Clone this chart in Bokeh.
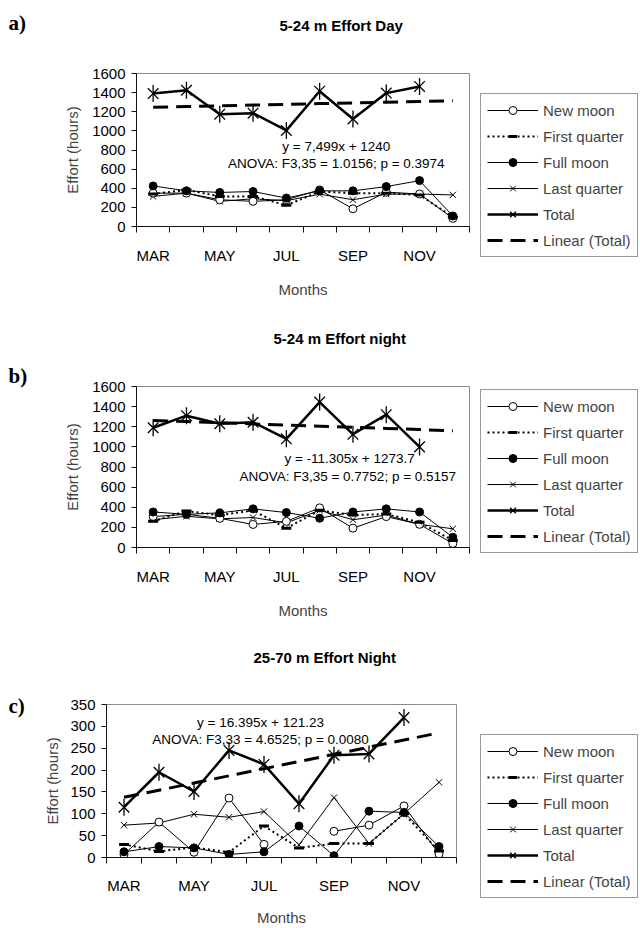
import numpy as np
from bokeh.plotting import figure
from bokeh.layouts import column, row
from bokeh.models import FixedTicker, Label, Legend, LegendItem, Range1d, ColumnDataSource
from bokeh.embed import file_html
from bokeh.resources import INLINE

months = ["MAR", "APR", "MAY", "JUN", "JUL", "AUG", "SEP", "OCT", "NOV", "DEC"]
month_pos = list(range(1, 11))
nan = float("nan")

# Panel a) 5-24 m Effort Day
a_new = [349, 349, 280, 263, 280, 383, 185, 359, 340, 85]
a_fq = [340, 383, 315, 315, 222, 366, 349, 349, 330, 100]
a_full = [424, 373, 356, 366, 297, 373, 373, 417, 480, 110]
a_lq = [315, 349, 263, 290, 270, 338, 280, 338, 340, 330]
a_total = [1390, 1425, 1175, 1185, 1005, 1415, 1125, 1395, 1465]
a_slope, a_intercept = 7.499, 1240.0

# Panel b) 5-24 m Effort night
b_new = [307, 330, 290, 229, 260, 394, 192, 307, 230, 40]
b_fq = [260, 363, 320, 369, 192, 369, 322, 332, 250, 70]
b_full = [353, 330, 344, 384, 347, 291, 353, 384, 353, 102]
b_lq = [276, 310, 285, 298, 245, 369, 276, 322, 230, 186]
b_total = [1190, 1310, 1230, 1245, 1080, 1445, 1125, 1320, 1000]
b_slope, b_intercept = -11.305, 1273.7

# Panel c) 25-70 m Effort Night
c_new = [7, 81, 12, 136, 30, nan, 60, 74, 118, 8]
c_fq = [30, 14, 23, 12, 72, 22, 32, 32, 100, 15]
c_full = [13, 25, 22, 7, 13, 72, 4, 106, 103, 25]
c_lq = [74, 79, 99, 92, 105, 29, 137, 32, 100, 172]
c_total = [115, 195, 151, 245, 213, 123, 234, 237, 320]
c_slope, c_intercept = 16.395, 121.23

FONT = "Liberation Sans"
W = 640
LEG_W = 160
TAG_W = 36
MAIN_W = W - TAG_W - LEG_W


def blank(width, height, x_range=None, **kw):
    f = figure(width=width, height=height, output_backend="svg", toolbar_location=None,
               x_range=x_range if x_range is not None else Range1d(0, width),
               y_range=Range1d(0, height),
               x_axis_location=None, y_axis_location=None, **kw)
    f.title.visible = False
    f.grid.visible = False
    f.outline_line_color = None
    return f


def draw(f, s, ts, trs):
    r = {}
    r["lq"] = [f.line("x", "lq", source=s, line_color="black", line_width=1),
               f.scatter("x", "lq", source=s, marker="x", size=9,
                         line_color="black", line_width=1)]
    r["new"] = [f.line("x", "new", source=s, line_color="black", line_width=1),
                f.scatter("x", "new", source=s, marker="circle", size=8,
                          line_color="black", fill_color="white", line_width=1)]
    r["fq"] = [f.line("x", "fq", source=s, line_color="black", line_width=2,
                      line_dash="2 3"),
               f.scatter("x", "fq", source=s, marker="dash", size=10,
                         line_color="black", line_width=3)]
    r["full"] = [f.line("x", "full", source=s, line_color="black", line_width=1),
                 f.scatter("x", "full", source=s, marker="circle", size=8,
                           line_color="black", fill_color="black")]
    r["tr"] = [f.line("x", "trend", source=trs, line_color="black", line_width=3,
                      line_dash="15 8")]
    r["tot"] = [f.line("x", "total", source=ts, line_color="black", line_width=2.5),
                f.scatter("x", "total", source=ts, marker="x", size=15,
                          line_color="black", line_width=1.3),
                f.scatter("x", "total", source=ts, marker="dash", size=17,
                          angle=np.pi / 2, line_color="black", line_width=1.3)]
    return r


def make_panel(head_h, main_h, top, frame_h, frame_left, frame_w, ymax, ystep,
               new, fq, full, lq, total, slope, intercept,
               eq_text, anova_text, eq_xy, anova_xy,
               title, title_xy, tag, tag_y, legend_y,
               xlab_standoff, xaxis_label_standoff, ylab_standoff):
    left = frame_left - TAG_W
    right = MAIN_W - left - frame_w
    p = figure(width=MAIN_W, height=main_h, output_backend="svg", toolbar_location=None,
               x_range=Range1d(0.5, 10.5), y_range=Range1d(0, ymax),
               min_border_left=left, min_border_right=right,
               min_border_top=top, min_border_bottom=main_h - top - frame_h)
    p.title.visible = False
    p.grid.visible = False
    p.outline_line_color = "#8c8c8c"
    p.outline_line_width = 1

    xa = p.xaxis[0]
    xa.ticker = FixedTicker(ticks=[1, 3, 5, 7, 9],
                            minor_ticks=[i + 0.5 for i in range(11)])
    xa.major_label_overrides = {m: months[m - 1] for m in [1, 3, 5, 7, 9]}
    xa.major_tick_out = 0
    xa.major_tick_in = 0
    xa.minor_tick_out = 6
    xa.minor_tick_in = 0
    xa.minor_tick_line_color = "#111111"
    xa.axis_line_color = "#111111"
    xa.major_label_standoff = xlab_standoff
    xa.axis_label = "Months"
    xa.axis_label_standoff = xaxis_label_standoff
    xa.axis_label_text_font = FONT
    xa.axis_label_text_font_size = "15px"
    xa.axis_label_text_font_style = "normal"
    xa.major_label_text_font = FONT
    xa.major_label_text_font_size = "15px"
    xa.major_label_text_color = "black"

    ya = p.yaxis[0]
    ya.ticker = FixedTicker(ticks=list(range(0, ymax + 1, ystep)), minor_ticks=[])
    ya.major_tick_out = 5
    ya.major_tick_in = 0
    ya.minor_tick_out = 0
    ya.minor_tick_in = 0
    ya.major_tick_line_color = "#111111"
    ya.axis_line_color = "#111111"
    ya.major_label_standoff = 6
    ya.axis_label = "Effort (hours)"
    ya.axis_label_standoff = ylab_standoff
    ya.axis_label_text_font = FONT
    ya.axis_label_text_font_size = "15px"
    ya.axis_label_text_font_style = "normal"
    ya.major_label_text_font = FONT
    ya.major_label_text_font_size = "15px"
    ya.major_label_text_color = "black"

    src = ColumnDataSource(dict(x=np.array(month_pos, float),
                                new=np.array(new, float), fq=np.array(fq, float),
                                full=np.array(full, float), lq=np.array(lq, float)))
    tsrc = ColumnDataSource(dict(x=np.array(month_pos[:len(total)], float),
                                 total=np.array(total, float)))
    xs = np.array(month_pos, float)
    trsrc = ColumnDataSource(dict(x=xs, trend=intercept + slope * xs))

    draw(p, src, tsrc, trsrc)

    for txt, (lx, ly) in ((eq_text, eq_xy), (anova_text, anova_xy)):
        p.add_layout(Label(x=lx, y=ly, text=txt, text_font=FONT, text_font_size="13.5px",
                           text_align="center", text_baseline="middle", text_color="black"))

    panel_h = head_h + main_h

    # header with the title (same borders as the main plot so frames line up)
    hd = blank(MAIN_W, head_h, x_range=Range1d(0, frame_w),
               min_border_left=left, min_border_right=right,
               min_border_top=0, min_border_bottom=0)
    hd.add_layout(Label(x=title_xy[0], y=title_xy[1], text=title, text_font=FONT,
                        text_font_size="15px", text_font_style="bold",
                        text_align="left", text_baseline="middle", text_color="black"))

    # tag column
    tg = blank(TAG_W, panel_h, min_border=0)
    tg.add_layout(Label(x=8, y=tag_y, text=tag, text_font="Liberation Serif",
                        text_font_size="21px", text_font_style="bold",
                        text_align="left", text_baseline="middle", text_color="black"))

    # legend column: same series drawn outside the visible range, used only for the key
    lg = blank(LEG_W, panel_h, x_range=Range1d(1000, 1000 + LEG_W), min_border=0)
    rr = draw(lg, src, tsrc, trsrc)
    legend = Legend(items=[
        LegendItem(label="New moon", renderers=rr["new"]),
        LegendItem(label="First quarter", renderers=rr["fq"]),
        LegendItem(label="Full moon", renderers=rr["full"]),
        LegendItem(label="Last quarter", renderers=rr["lq"]),
        LegendItem(label="Total", renderers=rr["tot"]),
        LegendItem(label="Linear (Total)", renderers=rr["tr"]),
    ], location=(0, legend_y))
    legend.border_line_color = "#333333"
    legend.border_line_width = 1
    legend.background_fill_color = "white"
    legend.background_fill_alpha = 1
    legend.label_text_font = FONT
    legend.label_text_font_size = "15px"
    legend.glyph_width = 51
    legend.glyph_height = 20
    legend.label_height = 20
    legend.label_standoff = 5
    legend.spacing = 6
    legend.padding = 6
    legend.margin = 0
    lg.add_layout(legend)

    return row(tg, column(hd, p, spacing=0), lg, spacing=0)


pa = make_panel(63, 237, 10, 156, 136, 333, 1600, 200,
                a_new, a_fq, a_full, a_lq, a_total, a_slope, a_intercept,
                "y = 7,499x + 1240", "ANOVA: F3,35 = 1.0156; p = 0.3974",
                (6.5, 841), (6.5, 656),
                "5-24 m Effort Day", (143, 38), "a)", 278, 43,
                14, 14, 8)

pb = make_panel(76, 245, 10, 172, 136, 333, 1600, 200,
                b_new, b_fq, b_full, b_lq, b_total, b_slope, b_intercept,
                "y = -11.305x + 1273.7", "ANOVA: F3,35 = 0.7752;  p = 0.5157",
                (6.9, 884), (6.9, 707),
                "5-24 m Effort night", (137, 38), "b)", 246, 68,
                14, 14, 8)

pc = make_panel(73, 234, 10, 163, 106, 350, 350, 50,
                c_new, c_fq, c_full, c_lq, c_total, c_slope, c_intercept,
                "y = 16.395x + 121.23", "ANOVA: F3,33 = 4.6525; p = 0.0080",
                (4.9, 309), (4.9, 270),
                "25-70 m Effort Night", (147, 37), "c)", 223, 30,
                13, 12, 6)

layout = column(pa, pb, pc, spacing=0)
open("out.html", "w").write(file_html(layout, INLINE))
